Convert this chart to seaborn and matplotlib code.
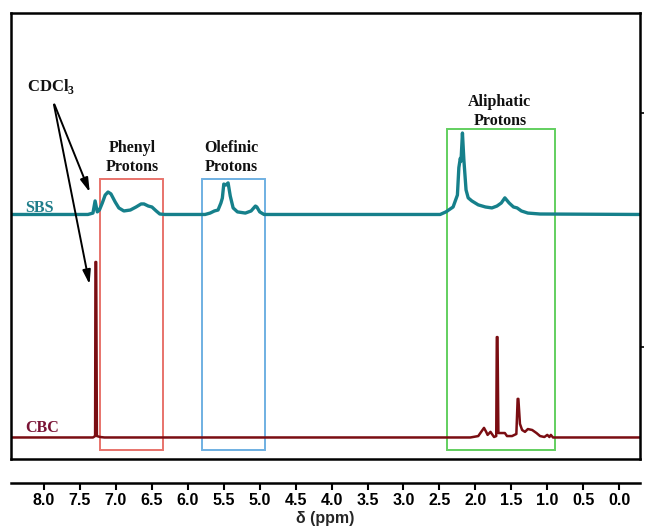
import matplotlib
matplotlib.use("Agg")
import matplotlib.pyplot as plt
import seaborn as sns
import pandas as pd
from matplotlib.patches import Rectangle

# ---------------- data ----------------
sbs_ppm = [8.46, 7.39, 7.32, 7.29, 7.26, 7.23, 7.19, 7.15, 7.11, 7.07, 7.01, 6.96,
           6.89, 6.80, 6.72, 6.65, 6.61, 6.55, 6.50, 6.44, 6.39, 6.32,
           5.76, 5.69, 5.63, 5.58, 5.54, 5.52, 5.50, 5.47, 5.44, 5.41, 5.37, 5.31,
           5.20, 5.12, 5.06, 5.04, 5.00, 4.94,
           2.49, 2.41, 2.31, 2.25, 2.23, 2.21, 2.20, 2.18, 2.16, 2.13, 2.10, 2.05,
           1.96, 1.86, 1.77, 1.70, 1.64, 1.59, 1.53, 1.47, 1.42, 1.36, 1.27, 1.10, -0.29]
sbs_int = [0.0, 0.0, 0.006, 0.058, 0.011, 0.019, 0.049, 0.083, 0.096, 0.088, 0.053, 0.028,
           0.015, 0.019, 0.032, 0.045, 0.045, 0.036, 0.032, 0.015, 0.002, 0.0,
           0.0, 0.006, 0.015, 0.019, 0.049, 0.070, 0.130, 0.126, 0.135, 0.079, 0.028, 0.011,
           0.006, 0.015, 0.036, 0.032, 0.011, 0.0,
           0.0, 0.011, 0.032, 0.083, 0.200, 0.240, 0.228, 0.348, 0.233, 0.105, 0.071, 0.058,
           0.041, 0.032, 0.028, 0.036, 0.049, 0.071, 0.049, 0.032, 0.028, 0.015, 0.006, 0.002, 0.0]

cbc_ppm = [8.46, 7.32, 7.29, 7.285, 7.275, 7.265, 7.22, 7.16,
           2.07, 1.96, 1.91, 1.88, 1.85, 1.83, 1.79, 1.77, 1.74, 1.71, 1.702, 1.692,
           1.68, 1.63, 1.59, 1.56, 1.49, 1.43, 1.412, 1.402, 1.38, 1.35, 1.31, 1.27,
           1.21, 1.15, 1.10, 1.04, 1.00, 0.97, 0.95, 0.92, -0.29]
cbc_int = [0.0, 0.0, 0.006, 0.75, 0.75, 0.006, 0.002, 0.0,
           0.0, 0.006, 0.028, 0.041, 0.024, 0.011, 0.024, 0.015, 0.002, 0.006, 0.429, 0.429,
           0.019, 0.019, 0.019, 0.006, 0.006, 0.015, 0.165, 0.165, 0.058, 0.032, 0.024, 0.036,
           0.032, 0.019, 0.006, 0.002, 0.011, 0.002, 0.011, 0.0, 0.0]

sbs_offset = 1.566
cbc_offset = 0.613

tick_vals = [8.0, 7.5, 7.0, 6.5, 6.0, 5.5, 5.0, 4.5, 4.0, 3.5, 3.0, 2.5, 2.0, 1.5, 1.0, 0.5, 0.0]
tick_labels = ["8.0", "7.5", "7.0", "6.5", "6.0", "5.5", "5.0", "4.5", "4.0", "3.5",
               "3.0", "2.5", "2.0", "1.5", "1.0", "0.5", "0.0"]

regions = ["Phenyl\nProtons", "Olefinic\nProtons", "Aliphatic\nProtons"]
region_lo = [6.34, 4.93, 0.89]
region_hi = [7.22, 5.80, 2.39]
region_top = [1.718, 1.718, 1.932]
region_colors = ["#e8736b", "#6fb0e2", "#62cf5f"]

# ---------------- figure ----------------
sns.set_theme(style="white")
plt.rcParams["font.family"] = ["Liberation Serif", "DejaVu Serif"]
plt.rcParams["mathtext.fontset"] = "custom"
plt.rcParams["mathtext.rm"] = "Liberation Serif"
plt.rcParams["mathtext.bf"] = "Liberation Serif:bold"

fig = plt.figure(figsize=(6.48, 5.31), dpi=100)
W, H = 648.0, 531.0
ax = fig.add_axes([11 / W, 1 - 459 / H, 629 / W, 446 / H])

sbs_df = pd.DataFrame({"ppm": sbs_ppm, "y": [v + sbs_offset for v in sbs_int]})
cbc_df = pd.DataFrame({"ppm": cbc_ppm, "y": [v + cbc_offset for v in cbc_int]})

sns.lineplot(data=sbs_df, x="ppm", y="y", sort=False, estimator=None,
             color="#16808b", lw=2.4, ax=ax)
sns.lineplot(data=cbc_df, x="ppm", y="y", sort=False, estimator=None,
             color="#7a0d12", lw=1.8, ax=ax)

ax.set_xlim(8.46, -0.29)
ax.set_ylim(0.521, 2.427)
ax.set_xlabel("")
ax.set_ylabel("")
ax.set_xticks([])
ax.yaxis.tick_right()
ax.set_yticks([1, 2])
ax.set_yticklabels(["1", "2"], fontsize=11, fontweight="bold")
ax.tick_params(axis="y", which="both", right=True, length=3, width=1.2, pad=3,
               direction="out", colors="black")
for s in ax.spines.values():
    s.set_color("black")
    s.set_linewidth(1.8)

for lab, lo, hi, top, col in zip(regions, region_lo, region_hi, region_top, region_colors):
    ax.add_patch(Rectangle((hi, 0.560), lo - hi, top - 0.560, fill=False,
                           edgecolor=col, lw=1.4, zorder=1))

txt_kw = dict(ha="center", va="center", fontsize=11.5, fontweight="bold",
              color="#111111", linespacing=1.3)
ax.text(6.77, 1.81, regions[0], **txt_kw)
ax.text(5.40, 1.81, regions[1], **txt_kw)
ax.text(1.66, 2.006, regions[2], **txt_kw)

ax.text(7.90, 2.115, r"CDCl$_\mathbf{3}$", ha="center", va="center", fontsize=12,
        fontweight="bold", color="#111111")
ax.text(8.06, 1.594, "SBS", ha="center", va="center", fontsize=11.5,
        fontweight="bold", color="#1f7d8a")
ax.text(8.03, 0.654, "CBC", ha="center", va="center", fontsize=11.5,
        fontweight="bold", color="#7a1436")

arrow_kw = dict(arrowstyle="-|>,head_length=0.7,head_width=0.2", color="black", lw=1.4)
ax.annotate("", xy=(7.35, 1.650), xytext=(7.87, 2.047), arrowprops=arrow_kw)
ax.annotate("", xy=(7.36, 1.256), xytext=(7.87, 2.047), arrowprops=arrow_kw)

# ---------------- separate x axis ----------------
ax2 = fig.add_axes([11 / W, 1 - 483 / H, 629 / W, 0.001])
ax2.set_xlim(8.46, -0.29)
ax2.set_yticks([])
for k in ["top", "left", "right"]:
    ax2.spines[k].set_visible(False)
ax2.spines["bottom"].set_color("black")
ax2.spines["bottom"].set_linewidth(1.8)
ax2.set_xticks(tick_vals)
ax2.set_xticklabels(tick_labels, fontsize=11.5, fontweight="bold",
                    family=["Liberation Sans", "DejaVu Sans"])
ax2.tick_params(axis="x", bottom=True, length=5, width=1.5, pad=2, direction="out",
                colors="black")
ax2.set_xlabel("δ (ppm)", fontsize=11.5, fontweight="bold",
               family=["Liberation Sans", "DejaVu Sans"], labelpad=2)
ax2.patch.set_alpha(0)

fig.savefig("out.png", dpi=100)
